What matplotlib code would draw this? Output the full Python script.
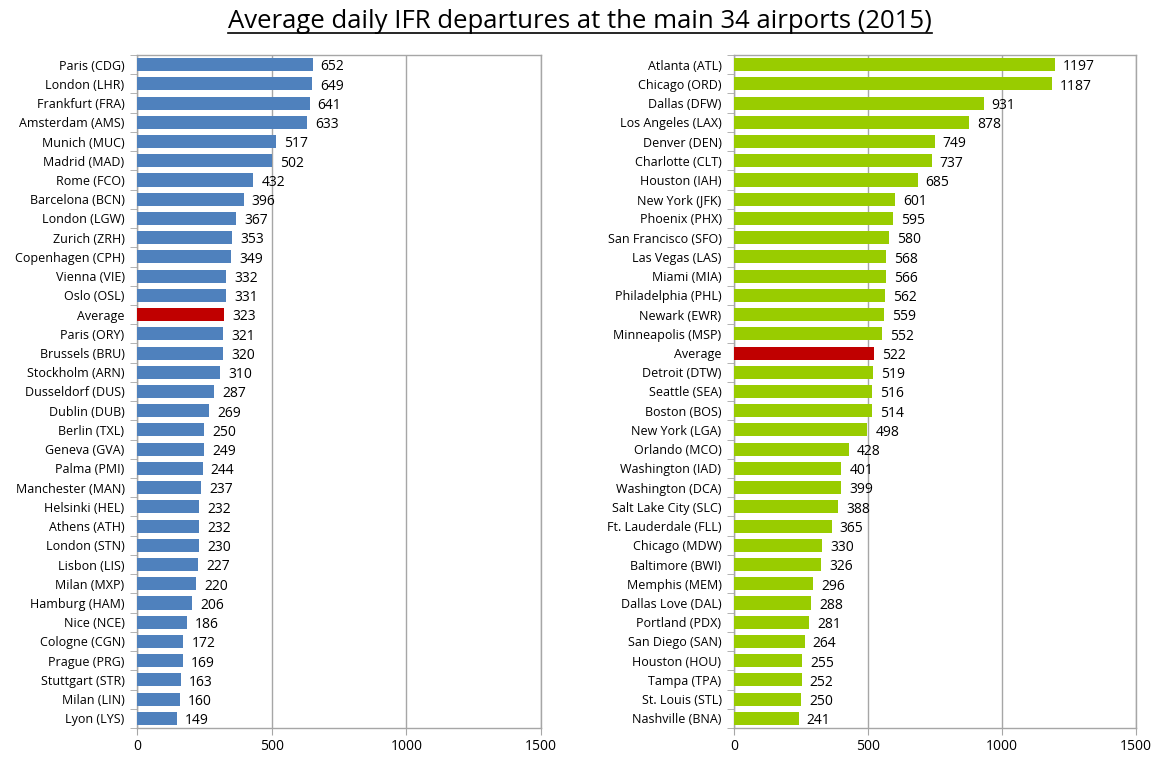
import matplotlib
matplotlib.use("Agg")
import matplotlib.pyplot as plt
import numpy as np

eu_labels = ["Paris (CDG)", "London (LHR)", "Frankfurt (FRA)", "Amsterdam (AMS)", "Munich (MUC)",
             "Madrid (MAD)", "Rome (FCO)", "Barcelona (BCN)", "London (LGW)", "Zurich (ZRH)",
             "Copenhagen (CPH)", "Vienna (VIE)", "Oslo (OSL)", "Average", "Paris (ORY)",
             "Brussels (BRU)", "Stockholm (ARN)", "Dusseldorf (DUS)", "Dublin (DUB)", "Berlin (TXL)",
             "Geneva (GVA)", "Palma (PMI)", "Manchester (MAN)", "Helsinki (HEL)", "Athens (ATH)",
             "London (STN)", "Lisbon (LIS)", "Milan (MXP)", "Hamburg (HAM)", "Nice (NCE)",
             "Cologne (CGN)", "Prague (PRG)", "Stuttgart (STR)", "Milan (LIN)", "Lyon (LYS)"]
eu_values = [652, 649, 641, 633, 517, 502, 432, 396, 367, 353, 349, 332, 331, 323, 321, 320, 310,
             287, 269, 250, 249, 244, 237, 232, 232, 230, 227, 220, 206, 186, 172, 169, 163, 160, 149]

us_labels = ["Atlanta (ATL)", "Chicago (ORD)", "Dallas (DFW)", "Los Angeles (LAX)", "Denver (DEN)",
             "Charlotte (CLT)", "Houston (IAH)", "New York (JFK)", "Phoenix (PHX)", "San Francisco (SFO)",
             "Las Vegas (LAS)", "Miami (MIA)", "Philadelphia (PHL)", "Newark (EWR)", "Minneapolis (MSP)",
             "Average", "Detroit (DTW)", "Seattle (SEA)", "Boston (BOS)", "New York (LGA)",
             "Orlando (MCO)", "Washington (IAD)", "Washington (DCA)", "Salt Lake City (SLC)",
             "Ft. Lauderdale (FLL)", "Chicago (MDW)", "Baltimore (BWI)", "Memphis (MEM)",
             "Dallas Love (DAL)", "Portland (PDX)", "San Diego (SAN)", "Houston (HOU)", "Tampa (TPA)",
             "St. Louis (STL)", "Nashville (BNA)"]
us_values = [1197, 1187, 931, 878, 749, 737, 685, 601, 595, 580, 568, 566, 562, 559, 552, 522, 519,
             516, 514, 498, 428, 401, 399, 388, 365, 330, 326, 296, 288, 281, 264, 255, 252, 250, 241]

x_ticks = [0, 500, 1000, 1500]
title = "Average daily IFR departures at the main 34 airports (2015)"

FONT = "Open Sans"
plt.rcParams["font.family"] = [FONT, "DejaVu Sans"]

fig = plt.figure(figsize=(11.6, 7.58), dpi=100)
W, H = 1160, 758
ax1 = fig.add_axes([137 / W, 1 - 728 / H, (541 - 137) / W, (728 - 55) / H])
ax2 = fig.add_axes([734 / W, 1 - 728 / H, (1136 - 734) / W, (728 - 55) / H])

grid_col = "#a6a6a6"


def draw(ax, labels, values, color):
    n = len(labels)
    y = np.arange(n)
    cols = ["#c00000" if l == "Average" else color for l in labels]
    ax.barh(y, values, height=0.68, color=cols, edgecolor="none", zorder=3)
    for yi, v in zip(y, values):
        ax.text(v + 30, yi + 0.12, str(v), va="center", ha="left", fontsize=10, color="black")
    ax.set_ylim(n - 0.5, -0.5)
    ax.set_xlim(0, 1500)
    ax.set_xticks(x_ticks)
    ax.set_xticklabels([str(t) for t in x_ticks], fontsize=10)
    ax.set_yticks(y)
    ax.set_yticklabels(labels, fontsize=9)
    ax.set_yticks(np.arange(n + 1) - 0.5, minor=True)
    ax.tick_params(axis="y", which="major", length=0, pad=9)
    ax.tick_params(axis="y", which="minor", length=5, color=grid_col, direction="out")
    ax.tick_params(axis="x", which="major", length=5, color=grid_col, direction="out", pad=3)
    ax.grid(axis="x", color=grid_col, linewidth=1, zorder=0)
    for s in ax.spines.values():
        s.set_color(grid_col)
        s.set_linewidth(1)


draw(ax1, eu_labels, eu_values, "#4f81bd")
draw(ax2, us_labels, us_values, "#99cc00")

t = fig.text(0.5, 1 - 21 / H, title, ha="center", va="center", fontsize=18.5)
fig.canvas.draw()
bb = t.get_window_extent(renderer=fig.canvas.get_renderer())
uy = (bb.y0 + 1) / (H)
fig.add_artist(plt.Line2D([bb.x0 / W, bb.x1 / W], [uy, uy], color="black", linewidth=1.2,
                          transform=fig.transFigure))

fig.savefig("out.png", dpi=100)
